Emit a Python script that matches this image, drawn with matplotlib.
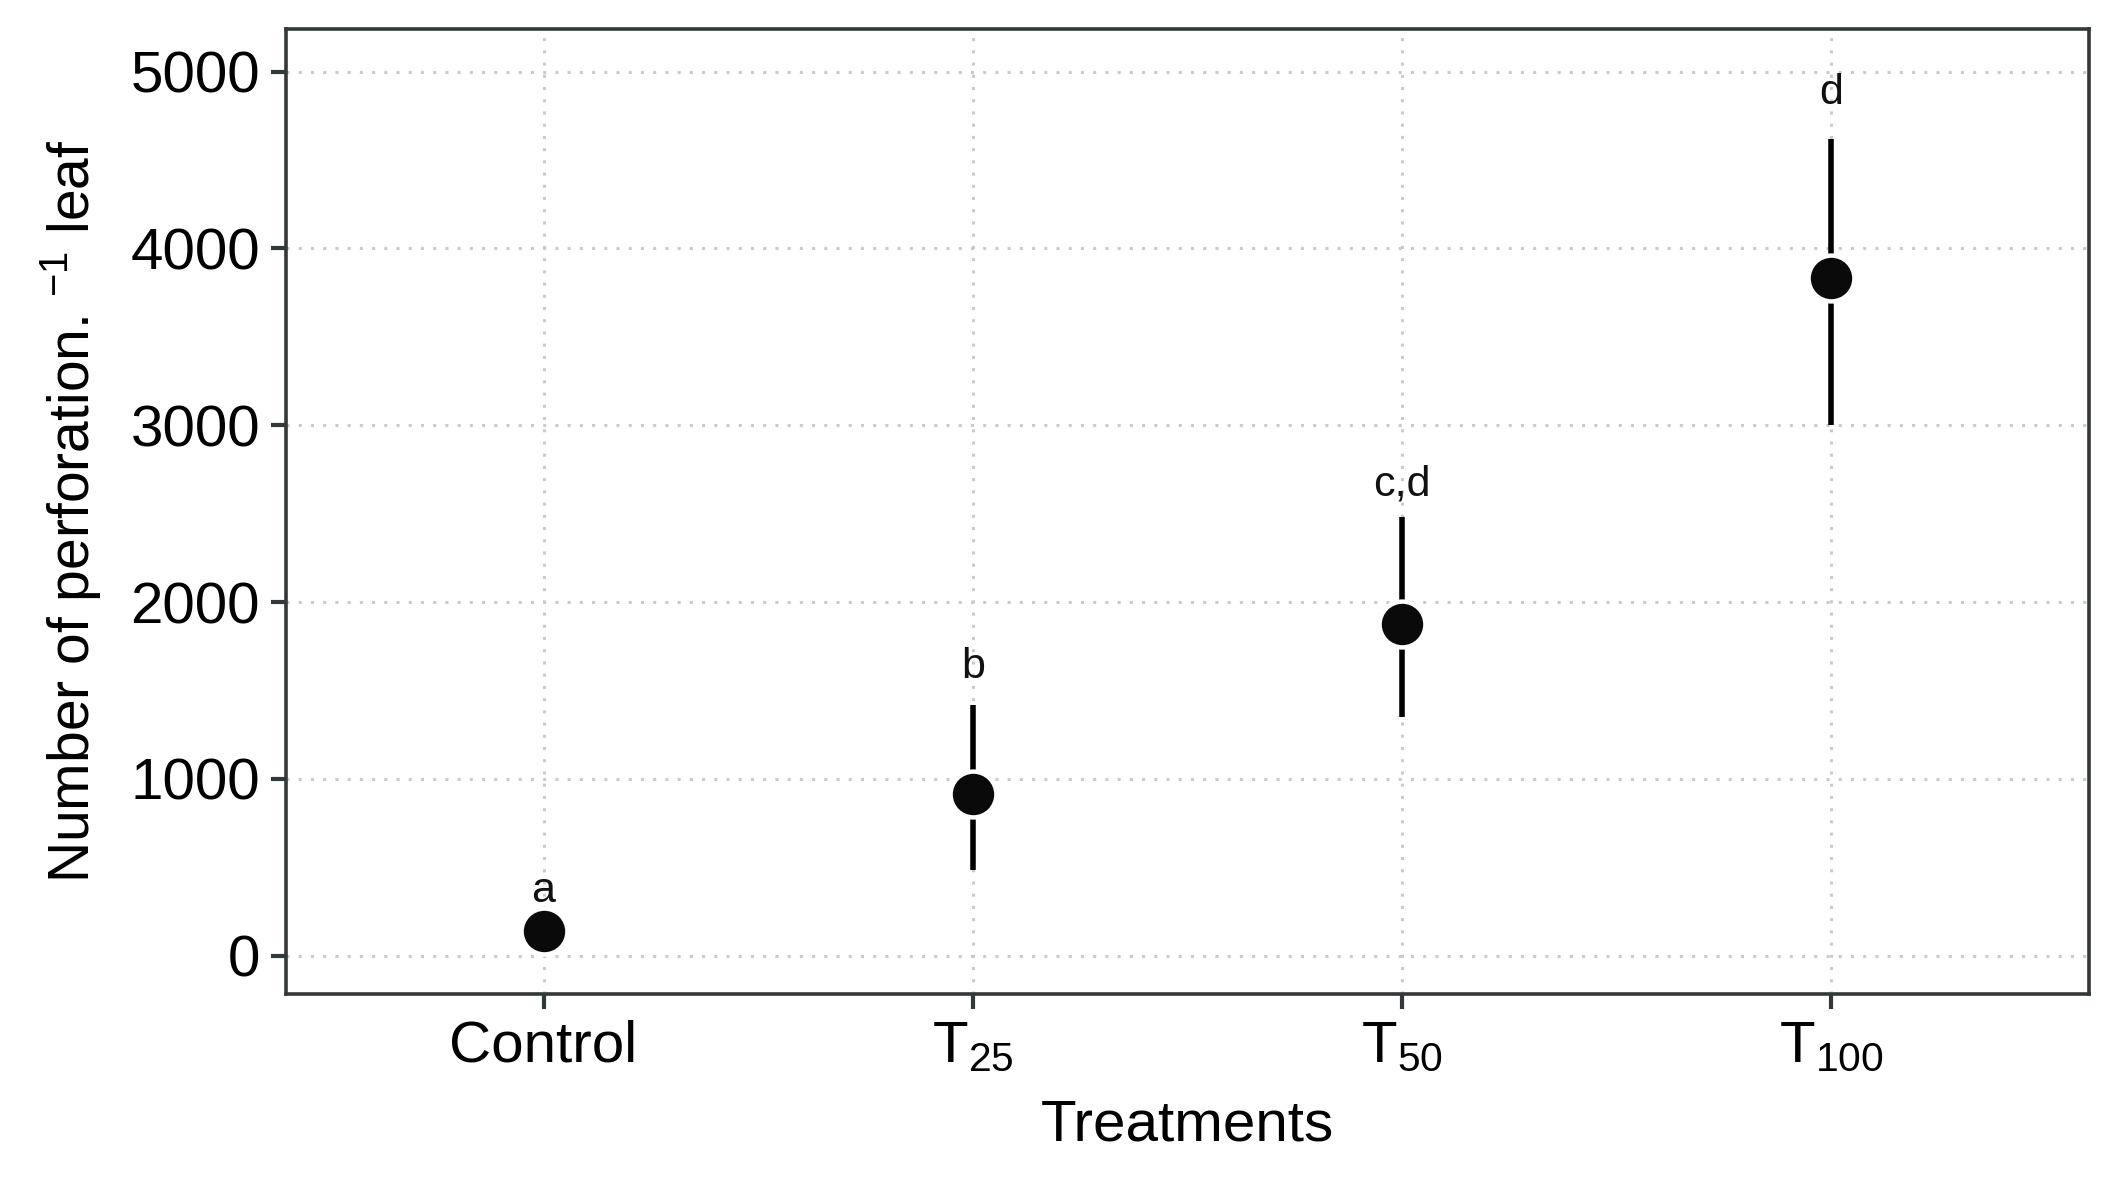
import numpy as np
import matplotlib
matplotlib.use("Agg")
import matplotlib.pyplot as plt

plt.rcParams['font.family'] = ['Liberation Sans', 'DejaVu Sans']
plt.rcParams['mathtext.fontset'] = 'custom'
plt.rcParams['mathtext.rm'] = 'Liberation Sans'
plt.rcParams['mathtext.default'] = 'regular'

# Datos
tratamientos = ['Control', 'T$_{25}$', 'T$_{50}$', 'T$_{100}$']
media = [142, 912, 1877, 3831]
inferior = [110, 482, 1352, 3002]
superior = [175, 1420, 2482, 4618]
letras = ['a', 'b', 'c,d', 'd']
letras_y = [367, 1635, 2663, 4877]

x = np.arange(1, len(tratamientos) + 1)
media = np.array(media)
err = [media - np.array(inferior), np.array(superior) - media]

fig = plt.figure(figsize=(10.63, 5.905), dpi=200)
ax = fig.add_axes([0.1345, 0.1583, 0.8481, 0.8172])

ax.grid(True, linestyle=(0, (1, 3)), color='#c8cccc', linewidth=1.1)
ax.set_axisbelow(True)

ax.errorbar(x, media, yerr=err, fmt='none', ecolor='black', elinewidth=2.0,
            capsize=0, zorder=3)
ax.plot(x, media, 'o', markersize=16.5, markerfacecolor='#0a0a0a',
        markeredgecolor='white', markeredgewidth=1.6, zorder=4)

for xi, l, ly in zip(x, letras, letras_y):
    ax.text(xi, ly, l, ha='center', va='center', fontsize=15.5, color='#111111')

ax.set_xlim(0.4, 4.6)
ax.set_ylim(-217, 5241)
ax.set_xticks(x)
ax.set_xticklabels(tratamientos)
ax.set_yticks([0, 1000, 2000, 3000, 4000, 5000])

for s in ax.spines.values():
    s.set_color('#333838')
    s.set_linewidth(1.3)
ax.tick_params(axis='both', length=5.3, width=1.5, color='#333838',
               labelsize=21, labelcolor='black', pad=4)

ax.set_xlabel('Treatments', fontsize=21, labelpad=9)
ax.set_ylabel('Number of perforation. $^{-1}$ leaf', fontsize=20.5, labelpad=10)

fig.savefig('out.png', dpi=200, facecolor='white')
